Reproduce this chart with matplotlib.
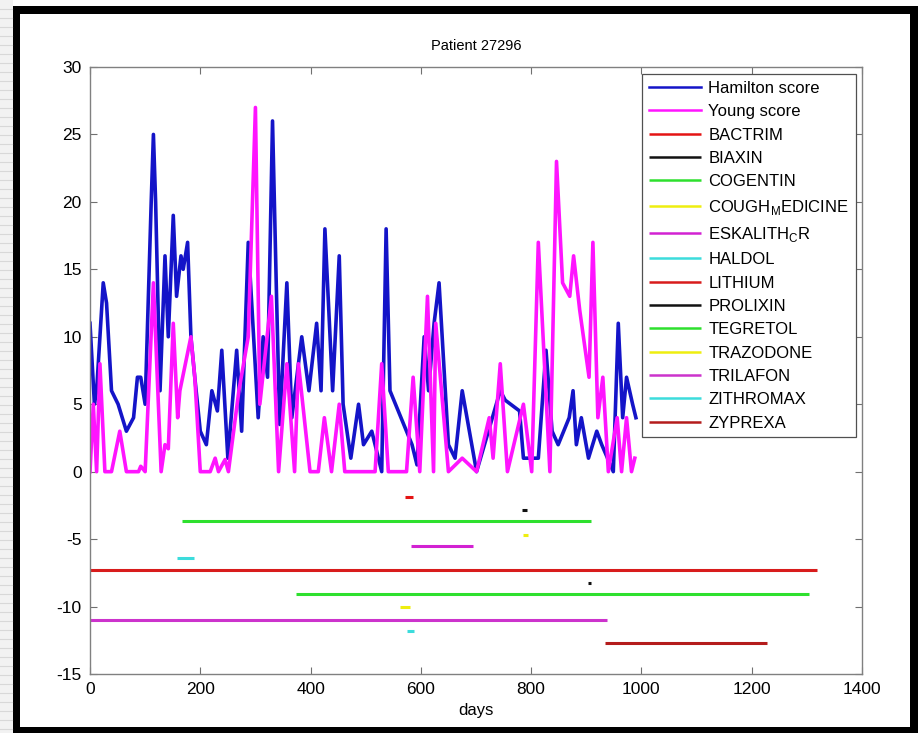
import numpy as np
import matplotlib
matplotlib.use("Agg")
import matplotlib.pyplot as plt
from matplotlib.patches import Rectangle

plt.rcParams['font.family'] = ['Liberation Sans', 'DejaVu Sans']
plt.rcParams['mathtext.fontset'] = 'custom'
plt.rcParams['mathtext.rm'] = 'Liberation Sans'
plt.rcParams['axes.unicode_minus'] = False

# scores over time
hamilton_days = [0, 8, 12, 24, 30, 39, 51, 66, 79, 86, 92, 100, 111, 115, 119,
                 127, 136, 142, 151, 157, 165, 169, 177, 183, 190, 200, 211, 221,
                 231, 239, 250, 266, 275, 287, 305, 314, 322, 331, 338, 344, 357,
                 366, 384, 397, 411, 419, 426, 440, 452, 459, 473, 487, 496, 511,
                 529, 537, 544, 584, 593, 606, 614, 624, 633, 650, 662, 675, 701,
                 744, 753, 779, 786, 813, 827, 838, 849, 869, 876, 882, 891, 904,
                 919, 928, 949, 958, 966, 973, 984, 990]
hamilton = [11, 5, 6, 14, 12.5, 6, 5, 3, 4, 7, 7, 5, 20, 25, 20,
            6, 16, 10, 19, 13, 16, 15, 17, 10, 7, 3, 2, 6,
            4.5, 9, 1, 9, 3, 17, 4, 10, 7, 26, 13.5, 3.5, 14,
            4, 10, 6, 11, 6, 18, 6, 16, 5, 1, 5, 2, 3,
            0, 18, 6, 2, 0.5, 10, 6, 11, 14, 2, 1, 6, 0,
            6, 5.3, 4.5, 1, 1, 9, 3, 2, 4, 6, 2, 4, 1,
            3, 2, 0, 11, 4, 7, 5, 4]

young_days = [0, 6, 12, 18, 27, 39, 54, 66, 88, 92, 100, 115, 129, 136, 142,
              151, 159, 163, 183, 190, 200, 218, 227, 233, 245, 251, 270, 287,
              300, 308, 329, 342, 357, 371, 378, 399, 414, 425, 438, 452, 462,
              517, 529, 541, 574, 586, 598, 612, 623, 627, 650, 675, 701, 724,
              731, 744, 757, 786, 801, 813, 834, 846, 857, 870, 877, 888, 905,
              912, 921, 930, 940, 956, 964, 973, 982, 988]
young = [0, 5, 0, 8, 0, 0, 3, 0, 0, 0.4, 0, 14, 0, 2, 1.7,
         11, 4, 6, 10, 7, 0, 0, 1, 0, 0.9, 0, 6, 10,
         27, 5, 13, 0, 8, 0, 8, 0, 0, 4, 0, 5, 0,
         0, 8, 0, 0, 7, 0, 13, 0, 11, 0, 1, 0, 4,
         1, 8, 0, 5, 0, 17, 0, 23, 14, 13, 16, 12, 7,
         17, 4, 7, 0, 4, 0, 4, 0, 1]

# medication periods
drugs = ['BACTRIM', 'BIAXIN', 'COGENTIN', r'COUGH$_\mathregular{M}$EDICINE',
         r'ESKALITH$_\mathregular{C}$R', 'HALDOL', 'LITHIUM', 'PROLIXIN',
         'TEGRETOL', 'TRAZODONE', 'TRILAFON', 'ZITHROMAX', 'ZYPREXA']
drug_start = [572, 784, 166, 786, 582, 158, 0, 903, 374, 562, 0, 574, 934]
drug_end = [586, 792, 909, 794, 694, 189, 1318, 909, 1303, 580, 938, 588, 1227]
drug_level = [-1.9, -2.85, -3.67, -4.68, -5.52, -6.37, -7.3, -8.22, -9.1,
              -10.03, -10.97, -11.82, -12.73]
drug_colors = ['#e41414', '#111111', '#2ee02e', '#eeee10', '#d222d2', '#3cdcdc',
               '#d81c1c', '#111111', '#2ee02e', '#eeee10', '#cc33cc', '#3cdcdc',
               '#b41c1c']

fig = plt.figure(figsize=(9.18, 7.33), dpi=100)

# frame around the picture
fig.patches.append(Rectangle((0, 0), 13 / 918, 1, transform=fig.transFigure,
                             facecolor='#f2f2f2', edgecolor='none'))
for yy in np.arange(4, 733, 9):
    fig.add_artist(plt.Line2D([0, 12 / 918], [yy / 733, yy / 733],
                              transform=fig.transFigure, color='#d8d8d8', lw=0.8))
for (x0, y0, w, h) in [(13, 0, 7, 727), (13, 719, 905, 8), (910, 0, 8, 727),
                       (13, 0, 905, 6)]:
    fig.patches.append(Rectangle((x0 / 918, y0 / 733), w / 918, h / 733,
                                 transform=fig.transFigure, facecolor='black',
                                 edgecolor='none'))

ax = fig.add_axes([90 / 918, 59 / 733, 772 / 918, 607 / 733])

ax.plot(hamilton_days, hamilton, color='#1414c8', lw=2.6, label='Hamilton score')
ax.plot(young_days, young, color='#ff14ff', lw=2.6, label='Young score')
for i in range(len(drugs)):
    ax.plot([drug_start[i], drug_end[i]], [drug_level[i], drug_level[i]],
            color=drug_colors[i], lw=2.2, label=drugs[i], solid_capstyle='butt')

ax.set_xlim(0, 1400)
ax.set_ylim(-15, 30)
ax.set_xticks(np.arange(0, 1401, 200))
ax.set_yticks(np.arange(-15, 31, 5))
ax.tick_params(direction='in', top=True, right=True, length=5, width=0.8,
               color='#707070', labelsize=12.5, pad=6)
for s in ax.spines.values():
    s.set_color('#808080')
    s.set_linewidth(1.0)

ax.set_title('Patient 27296', fontsize=10.5, pad=12)
ax.set_xlabel('days', fontsize=12, labelpad=4)

leg = ax.legend(loc='upper right', bbox_to_anchor=(0.992, 0.988), fontsize=12,
                fancybox=False, framealpha=1, edgecolor='#505050',
                handlelength=3.1, handletextpad=0.45, labelspacing=0.5,
                borderpad=0.4, borderaxespad=0)
leg.get_frame().set_linewidth(0.9)
for line in leg.get_lines():
    line.set_linewidth(1.8)

fig.savefig('out.png', dpi=100)
